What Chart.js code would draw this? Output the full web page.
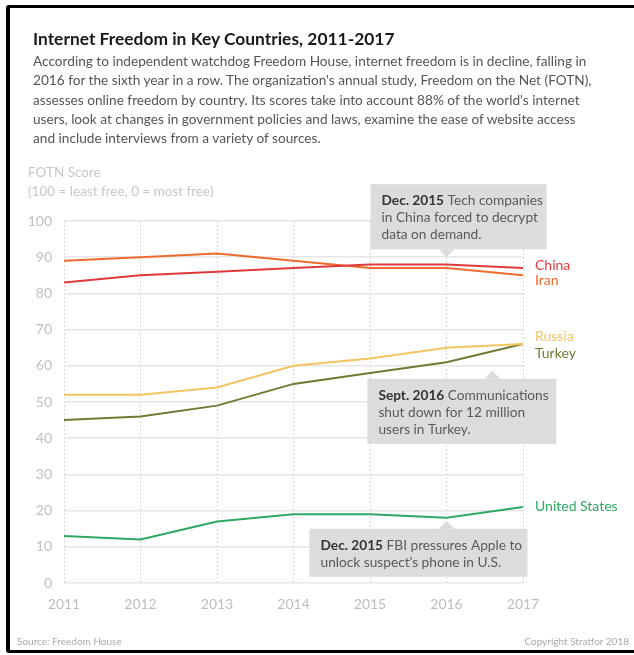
<!DOCTYPE html>
<html>
<head>
<meta charset="utf-8">
<script src="https://cdn.jsdelivr.net/npm/chart.js@4.4.1/dist/chart.umd.min.js"></script>
<style>
  html, body { margin: 0; padding: 0; background: #fff; }
  #wrap { position: relative; width: 634px; height: 655px; overflow: hidden; font-family: Lato, "Open Sans", sans-serif; }
  #frame { position: absolute; left: 6px; top: 5px; width: 640px; height: 642px; border: 3px solid #000; border-left-width: 4px; border-radius: 3px; }
  #chart { position: absolute; left: 0; top: 0; }
  .txt { position: absolute; white-space: nowrap; }
  #title { left: 33px; top: 28px; font-size: 17.4px; font-weight: 700; color: #1a1a1a; }
  #sub { left: 33px; top: 52px; font-size: 13.65px; line-height: 19.3px; color: #555; }
  #ylab { left: 28px; top: 163px; font-size: 13.5px; line-height: 19px; color: #c8c8c8; }
  #src { left: 17px; top: 635px; font-size: 10px; color: #aaa; }
  #copy { right: 5px; top: 635px; font-size: 10px; color: #aaa; }
</style>
</head>
<body>
<div id="wrap">
  <div id="frame"></div>
  <canvas id="chart" width="634" height="655"></canvas>
  <div class="txt" id="title">Internet Freedom in Key Countries, 2011-2017</div>
  <div class="txt" id="sub">According to independent watchdog Freedom House, internet freedom is in decline, falling in<br>2016 for the sixth year in a row. The organization's annual study, Freedom on the Net (FOTN),<br>assesses online freedom by country. Its scores take into account 88% of the world's internet<br>users, look at changes in government policies and laws, examine the ease of website access<br>and include interviews from a variety of sources.</div>
  <div class="txt" id="ylab">FOTN Score<br>(100 = least free, 0 = most free)</div>
  <div class="txt" id="src">Source: Freedom House</div>
  <div class="txt" id="copy">Copyright Stratfor 2018</div>
</div>
<script>
// data
var years = [2011, 2012, 2013, 2014, 2015, 2016, 2017];
var china = [83, 85, 86, 87, 88, 88, 87];
var iran = [89, 90, 91, 89, 87, 87, 85];
var russia = [52, 52, 54, 60, 62, 65, 66];
var turkey = [45, 46, 49, 55, 58, 61, 66];
var usa = [13, 12, 17, 19, 19, 18, 21];
var yTicks = [0, 10, 20, 30, 40, 50, 60, 70, 80, 90, 100];

var seriesNames = ["China", "Iran", "Russia", "Turkey", "United States"];
var seriesData = [china, iran, russia, turkey, usa];
var seriesColors = ["#e0393b", "#ef6a2d", "#f3c462", "#6d7b33", "#2ea862"];
var labelShift = [-3, 5, -8, 9, 0];

// callouts: anchor year/value, then bold lead and remaining lines
var notes = [
  { x: 2016, y: 90, up: false, w: 176, lead: "Dec. 2015", lines: [" Tech companies", "in China forced to decrypt", "data on demand."], left: 76 },
  { x: 2016.6, y: 58.6, up: true, w: 189, lead: "Sept. 2016", lines: [" Communications", "shut down for 12 million", "users in Turkey."], left: 125 },
  { x: 2016, y: 17.2, up: true, w: 218, lead: "Dec. 2015", lines: [" FBI pressures Apple to", "unlock suspect\u2019s phone in U.S."], left: 137 }
];

var datasets = seriesData.map(function (vals, i) {
  return {
    label: seriesNames[i],
    data: vals.map(function (v, j) { return { x: years[j], y: v }; }),
    borderColor: seriesColors[i],
    borderWidth: 2,
    pointRadius: 0,
    tension: 0,
    fill: false
  };
});

var extras = {
  id: "extras",
  afterDatasetsDraw: function (chart) {
    var ctx = chart.ctx;
    var xs = chart.scales.x, ys = chart.scales.y;
    ctx.save();
    // end labels
    ctx.font = "14px Lato";
    ctx.textBaseline = "middle";
    ctx.textAlign = "left";
    seriesData.forEach(function (vals, i) {
      var last = vals.length - 1;
      ctx.fillStyle = seriesColors[i];
      ctx.fillText(seriesNames[i], xs.getPixelForValue(years[last]) + 12, ys.getPixelForValue(vals[last]) + labelShift[i]);
    });
    // callouts
    notes.forEach(function (n) {
      var tx = xs.getPixelForValue(n.x), ty = ys.getPixelForValue(n.y);
      var lh = 17, ph = 8, padV = 8;
      var h = n.lines.length * lh + padV * 2 - 2;
      var bx = tx - n.left, by = n.up ? ty + ph : ty - ph - h;
      ctx.fillStyle = "#dcdcdc";
      ctx.fillRect(bx, by, n.w, h);
      ctx.beginPath();
      if (n.up) {
        ctx.moveTo(tx - 8, by); ctx.lineTo(tx, ty); ctx.lineTo(tx + 8, by);
      } else {
        ctx.moveTo(tx - 8, by + h); ctx.lineTo(tx, ty); ctx.lineTo(tx + 8, by + h);
      }
      ctx.fill();
      n.lines.forEach(function (line, k) {
        var lx = bx + 11, ly = by + padV + lh / 2 + k * lh;
        if (k === 0) {
          ctx.font = "bold 13.7px Lato";
          ctx.fillStyle = "#333";
          ctx.fillText(n.lead, lx, ly);
          lx += ctx.measureText(n.lead).width;
        }
        ctx.font = "13.7px Lato";
        ctx.fillStyle = "#5a5a5a";
        ctx.fillText(line, lx, ly);
      });
    });
    ctx.restore();
  }
};

new Chart(document.getElementById("chart"), {
  type: "line",
  data: { datasets: datasets },
  options: {
    responsive: false,
    animation: false,
    layout: { padding: { left: 0, right: 111, top: 221, bottom: 32 } },
    plugins: { legend: { display: false }, tooltip: { enabled: false } },
    scales: {
      x: {
        type: "linear",
        min: years[0],
        max: years[years.length - 1],
        afterFit: function (s) { s.height = 40; },
        grid: { color: "#d6d6d6", lineWidth: 1, drawTicks: false },
        border: { display: false, dash: [2, 2] },
        ticks: {
          stepSize: 1,
          padding: 13,
          color: "#bdbdbd",
          font: { family: "Lato", size: 14 },
          callback: function (v) { return String(v); }
        }
      },
      y: {
        min: 0,
        max: 100,
        afterFit: function (s) { s.width = 64; },
        afterBuildTicks: function (s) { s.ticks = yTicks.map(function (v) { return { value: v }; }); },
        grid: { color: "#e6e6e6", lineWidth: 1.5, drawTicks: false },
        border: { display: false },
        ticks: {
          padding: 12,
          color: "#c0c0c0",
          font: { family: "Lato", size: 14 }
        }
      }
    }
  },
  plugins: [extras]
});
</script>
</body>
</html>
